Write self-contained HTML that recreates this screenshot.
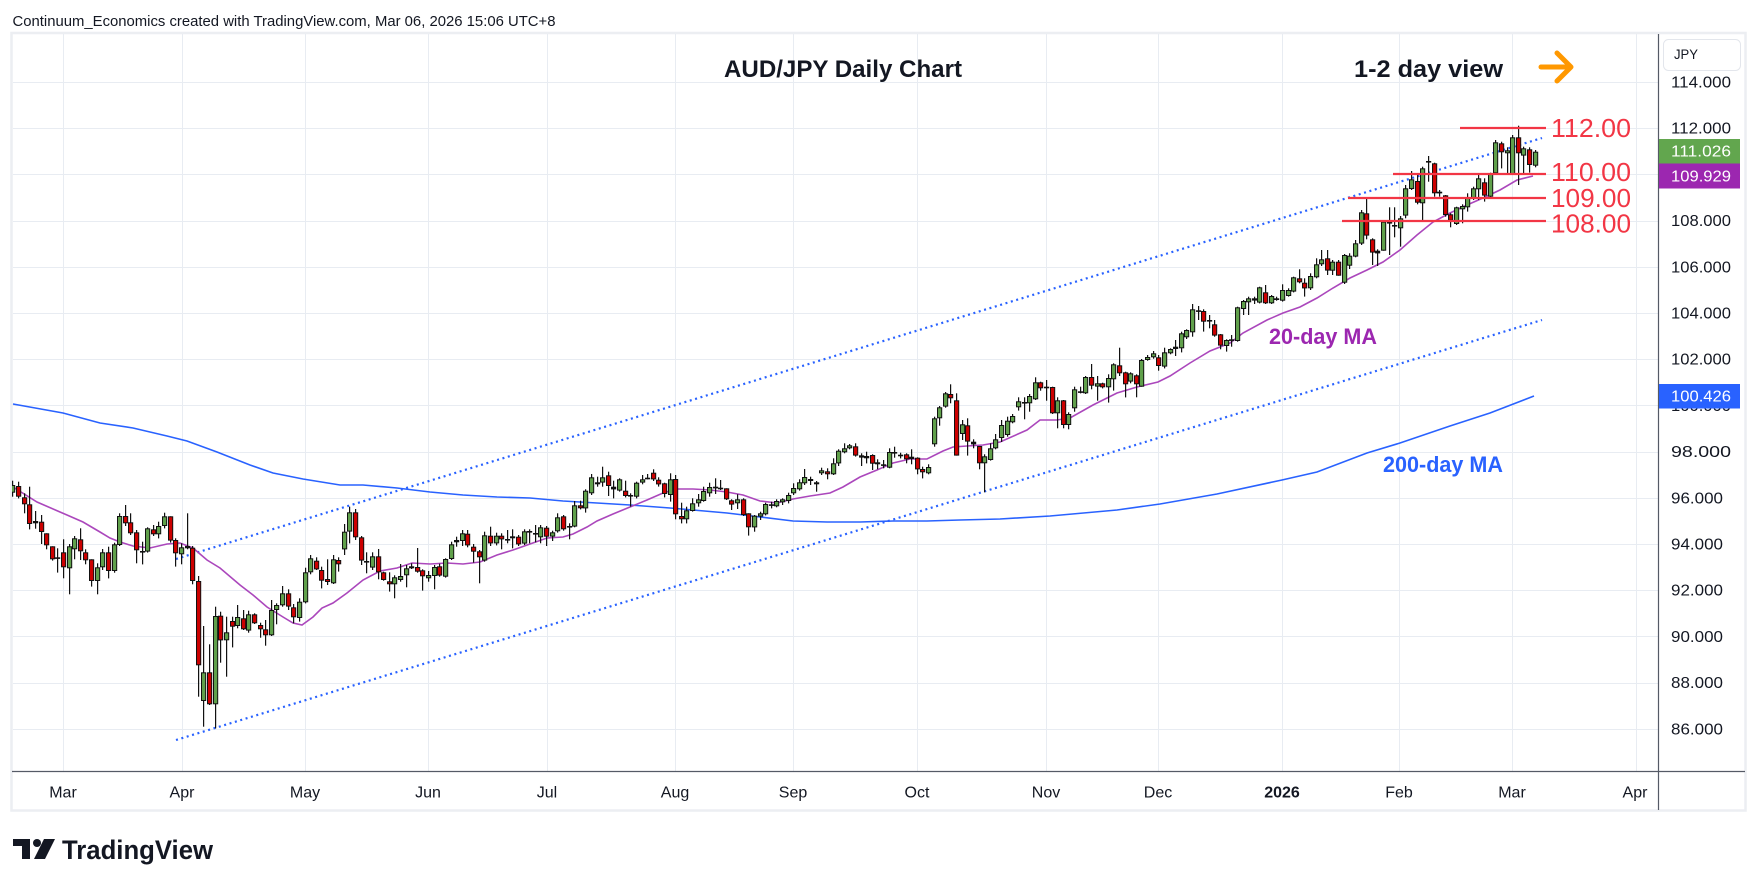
<!DOCTYPE html>
<html><head><meta charset="utf-8">
<style>
html,body{margin:0;padding:0;background:#fff;}
body{width:1758px;height:886px;overflow:hidden;}
svg{display:block;font-family:"Liberation Sans",sans-serif;}
</style></head><body>
<svg id="c" width="1758" height="886" viewBox="0 0 1758 886" xmlns="http://www.w3.org/2000/svg">
<defs><clipPath id="clip"><rect x="12" y="34" width="1646" height="737"/></clipPath></defs>
<rect x="0" y="0" width="1758" height="886" fill="#fff"/>
<text x="12.5" y="26" font-size="15" fill="#131722" textLength="543" lengthAdjust="spacingAndGlyphs">Continuum_Economics created with TradingView.com, Mar 06, 2026 15:06 UTC+8</text>
<rect x="11.5" y="33" width="1734" height="777.5" fill="none" stroke="#eceef2" stroke-width="2.5"/>
<g id="grid"></g>
<g clip-path="url(#clip)">
<polyline id="ma200" fill="none" stroke="#2962ff" stroke-width="1.6" points="13,404 63,413 100,423 133,428 167,436 187,441 217,452 250,465 273,473 303,479 340,485 363,485 397,488 430,492 463,495 497,497 530,498 563,501 597,503 630,505 670,508 693,510 727,513 760,517 793,521 827,522 860,522 893,521 927,521 960,520 1000,519 1050,516 1117,510 1160,504 1217,494 1282,480 1317,472 1367,453 1400,443 1450,426 1490,413 1534,396"/>
<line x1="176" y1="559" x2="1542" y2="138" stroke="#2962ff" stroke-width="2.2" stroke-dasharray="2 3.6"/>
<line x1="176" y1="740" x2="1542" y2="320" stroke="#2962ff" stroke-width="2.2" stroke-dasharray="2 3.6"/>
<polyline id="ma20" fill="none" stroke="#ab47bc" stroke-width="1.6" points="13,487 37,502 60,512 67,515 83,522 100,532 110,538 120,542 133,546 150,548 167,544 180,543 193,548 207,560 220,568 240,585 253,595 267,607 283,617 293,623 302,625 313,617 322,608 333,603 347,593 363,580 380,571 397,568 412,563 430,564 447,563 463,564 480,562 497,555 513,550 530,544 547,538 563,537 573,534 587,527 597,521 613,514 630,507 647,500 663,493 677,489 693,489 710,490 727,492 743,495 760,501 777,503 793,499 810,496 830,493 843,487 860,477 877,470 893,463 910,459 927,459 943,451 953,447 967,446 983,445 1000,442 1027,430 1040,420 1057,420 1070,418 1093,405 1117,393 1137,387 1158,382 1170,376 1190,363 1210,351 1230,343 1243,333 1267,320 1283,313 1300,307 1317,298 1333,288 1350,278 1367,270 1383,262 1400,250 1417,235 1433,222 1450,213 1467,205 1483,198 1500,190 1517,180 1533,176"/>
<g id="candles"></g>
<line x1="1460" y1="128" x2="1546" y2="128" stroke="#f23645" stroke-width="2.2"/>
<line x1="1393" y1="174" x2="1546" y2="174" stroke="#f23645" stroke-width="2.2"/>
<line x1="1348" y1="198" x2="1546" y2="198" stroke="#f23645" stroke-width="2.2"/>
<line x1="1342" y1="221" x2="1546" y2="221" stroke="#f23645" stroke-width="2.2"/>
</g>
<text x="724" y="77" font-size="24" font-weight="bold" fill="#131722" textLength="238" lengthAdjust="spacingAndGlyphs">AUD/JPY Daily Chart</text>
<text x="1354" y="77" font-size="24" font-weight="bold" fill="#131722" textLength="149" lengthAdjust="spacingAndGlyphs">1-2 day view</text>
<g stroke="#ff9800" stroke-width="5" stroke-linecap="round" stroke-linejoin="round" fill="none">
<line x1="1541" y1="67" x2="1570" y2="67"/>
<polyline points="1557,53 1571,67 1557,81"/>
</g>
<g font-size="25.5" fill="#f23645">
<text x="1551" y="137" textLength="80" lengthAdjust="spacingAndGlyphs">112.00</text>
<text x="1551" y="181" textLength="80" lengthAdjust="spacingAndGlyphs">110.00</text>
<text x="1551" y="207" textLength="80" lengthAdjust="spacingAndGlyphs">109.00</text>
<text x="1551" y="232.5" textLength="80" lengthAdjust="spacingAndGlyphs">108.00</text>
</g>
<text x="1269" y="344" font-size="22" font-weight="bold" fill="#9c27b0" textLength="108" lengthAdjust="spacingAndGlyphs">20-day MA</text>
<text x="1383" y="472" font-size="22" font-weight="bold" fill="#2962ff" textLength="120" lengthAdjust="spacingAndGlyphs">200-day MA</text>
<line x1="12" y1="771.5" x2="1745" y2="771.5" stroke="#555a66" stroke-width="1.2"/>
<line x1="1658.5" y1="34" x2="1658.5" y2="810" stroke="#555a66" stroke-width="1.2"/>
<g font-size="15.5" fill="#131722">
<text x="1671" y="87.5" textLength="60" lengthAdjust="spacingAndGlyphs">114.000</text>
<text x="1671" y="133.7" textLength="60" lengthAdjust="spacingAndGlyphs">112.000</text>
<text x="1671" y="226.1" textLength="60" lengthAdjust="spacingAndGlyphs">108.000</text>
<text x="1671" y="272.3" textLength="60" lengthAdjust="spacingAndGlyphs">106.000</text>
<text x="1671" y="318.5" textLength="60" lengthAdjust="spacingAndGlyphs">104.000</text>
<text x="1671" y="364.7" textLength="60" lengthAdjust="spacingAndGlyphs">102.000</text>
<text x="1671" y="410.9" textLength="60" lengthAdjust="spacingAndGlyphs">100.000</text>
<text x="1671" y="457.1" textLength="60" lengthAdjust="spacingAndGlyphs">98.000</text>
<text x="1671" y="503.3" textLength="52" lengthAdjust="spacingAndGlyphs">96.000</text>
<text x="1671" y="549.5" textLength="52" lengthAdjust="spacingAndGlyphs">94.000</text>
<text x="1671" y="595.7" textLength="52" lengthAdjust="spacingAndGlyphs">92.000</text>
<text x="1671" y="641.9" textLength="52" lengthAdjust="spacingAndGlyphs">90.000</text>
<text x="1671" y="688.1" textLength="52" lengthAdjust="spacingAndGlyphs">88.000</text>
<text x="1671" y="734.3" textLength="52" lengthAdjust="spacingAndGlyphs">86.000</text>
</g>
<rect x="1659" y="139" width="81" height="24.5" fill="#62a64e"/>
<rect x="1659" y="163.5" width="81" height="25" fill="#9c27b0"/>
<rect x="1659" y="384" width="81" height="24.5" fill="#2962ff"/>
<g font-size="15.5" fill="#fff">
<text x="1671" y="156.7" textLength="60" lengthAdjust="spacingAndGlyphs">111.026</text>
<text x="1671" y="181.5" textLength="60" lengthAdjust="spacingAndGlyphs">109.929</text>
<text x="1671" y="401.7" textLength="60" lengthAdjust="spacingAndGlyphs">100.426</text>
</g>
<rect x="1663.5" y="39.5" width="77" height="31" rx="5" fill="#fff" stroke="#e3e6ec" stroke-width="1"/>
<text x="1674" y="59" font-size="14" fill="#131722" textLength="24" lengthAdjust="spacingAndGlyphs">JPY</text>
<g font-size="16" fill="#131722" text-anchor="middle">
<text x="63" y="797.5">Mar</text>
<text x="182" y="797.5">Apr</text>
<text x="305" y="797.5">May</text>
<text x="428" y="797.5">Jun</text>
<text x="547" y="797.5">Jul</text>
<text x="675" y="797.5">Aug</text>
<text x="793" y="797.5">Sep</text>
<text x="917" y="797.5">Oct</text>
<text x="1046" y="797.5">Nov</text>
<text x="1158" y="797.5">Dec</text>
<text x="1282" y="797.5" font-weight="bold">2026</text>
<text x="1399" y="797.5">Feb</text>
<text x="1512" y="797.5">Mar</text>
<text x="1635" y="797.5">Apr</text>
</g>
<g fill="#131722">
<rect x="13" y="839" width="17" height="7"/>
<rect x="22" y="839" width="8" height="20"/>
<circle cx="37" cy="843" r="4"/>
<polygon points="44,839 55,839 45,859 34,859"/>
</g>
<text x="62" y="859" font-size="27" font-weight="bold" fill="#131722" textLength="151" lengthAdjust="spacingAndGlyphs">TradingView</text>
</svg>
<script>
(function(){
var NS='http://www.w3.org/2000/svg';
function el(tag,a,p){var e=document.createElementNS(NS,tag);for(var k in a)e.setAttribute(k,a[k]);p.appendChild(e);return e;}
var grid=document.getElementById('grid');
for(var p=86;p<=114;p+=2){var y=Math.round(82+(114-p)*23.1)+0.5;el('line',{x1:13,x2:1658,y1:y,y2:y,stroke:'#e8ecf2','stroke-width':1},grid);}
[63,182,305,428,547,675,793,917,1046,1158,1282,1399,1512,1636].forEach(function(x){el('line',{x1:x+0.5,x2:x+0.5,y1:34,y2:771,stroke:'#e8ecf2','stroke-width':1},grid);});
var segs=[
{s:-9,o:470,d:"g45,68,32,80 r48,80,35,85 r82,103,70,130 r103,162,50,178 g153,160,123,176 r155,186,135,222 r190,226,190,238 r229,268,229,272 d262,265,235,308 r247,292,208,325 g229,295,222,373 g205,238,198,268 r208,244,175,270 r247,271,238,283 r268,333,268,350 g292,333,280,373 g247,292,237,300 r247,303,230,325 g223,303,218,308 g138,225,130,228 r138,160,105,168 r157,190,130,195 r187,241,180,280 d243,246,215,283 g175,245,172,248 r178,193,165,198 g168,193,155,205 g139,168,128,175 r139,212,139,218 r210,250,205,290 g232,253,220,283 g228,235,130,238 r233,333,228,343 r333,586,318,680 g607,693,468,770 r607,703,523,705 g438,703,410,775 r437,511,425,578 g487,511,440,620 r453,470,440,532 g441,468,405,475 r445,478,420,480 g433,482,422,488 r433,460,430,462 r465,478,458,503 r478,496,450,527 g420,496,390,498 g405,420,400,463 g370,406,348,410 r370,410,358,420 r412,442,402,460 g395,444,385,455 g307,397,293,400 g265,307,255,313 r272,298,262,300 r300,332,290,355 r327,336,268,345 g268,340,255,342 r270,283,262,305"},
{s:50,o:440,d:"g275,328,252,345 g217,275,200,310 r217,292,207,300 r292,362,288,375 d363,365,337,400 g349,383,337,390 r349,397,327,418 r397,420,395,422 r424,433,397,455 g412,433,406,475 g408,420,372,425 g385,406,375,442 g379,385,370,387 r381,395,324,398 r391,409,388,452 g405,415,393,425 g381,408,375,448 r379,407,371,410 g357,410,355,413 g313,357,305,360 g300,307,290,320 g280,303,270,318 r281,316,270,322 r320,335,312,368 r334,352,330,430 g286,362,275,365 r287,310,260,318 g287,310,278,316 r287,298,280,328 d297,300,270,310 g289,295,268,325 r290,313,285,318 g274,311,268,315 d273,275,268,310 d279,281,255,307 g262,292,255,310 r263,290,258,318 g277,290,272,303 g232,274,220,278 r229,268,225,272 d258,260,250,298 g196,260,183,262 r196,205,182,208 g152,205,148,218 g112,160,102,165 g127,133,110,140 g112,128,80,140 r106,138,95,168 r140,148,122,175 g118,152,115,155 r152,168,122,172 d165,167,160,200 g128,170,125,175 g118,128,105,133 d113,116,102,118 r98,118,88,123 r119,133,112,140 r130,162,128,172 g118,165,100,185"},
{s:109,o:360,d:"r357,463,345,478 r468,478,428,490 g451,478,440,490 g430,453,415,455 g418,430,402,440 g393,423,380,425 g381,400,368,410 g380,385,355,402 d383,385,360,390 r385,418,385,420 r421,434,418,450 g418,430,403,447 r418,465,415,468 r460,502,460,527 g467,502,465,515 g460,470,455,480 g432,463,428,466 d433,436,425,445 g423,439,418,442 g418,427,415,435 g405,423,398,430 g384,400,370,405 g367,388,358,392 g351,370,327,375 r357,363,350,375 r367,373,363,395 g331,340,323,345 r334,343,325,358 g310,343,295,345 g272,310,268,318 g265,277,250,280 g256,265,252,268 r259,287,250,290 r286,293,280,318 g288,295,275,310 r285,311,283,330 r307,313,298,328 d313,316,300,325 g276,323,265,325 d276,278,260,293 d284,287,278,295 r283,298,280,310 g290,297,268,313 r293,328,292,343 r327,337,320,355 g321,340,313,343 g175,253,170,260 g142,175,138,197 g100,140,96,143 r102,115,73,130 r121,287,100,287 g193,222,180,240 r196,245,175,287 r245,253,238,265 r258,310,258,328 g289,310,283,397 g265,300,250,302 g238,265,222,268 g195,234,180,246"},
{s:168,o:240,d:"g542,585,530,590 g528,547,522,550 g484,502,472,512 d486,488,472,538 g468,490,462,515 g427,478,412,480 r427,445,425,452 d440,442,420,482 r441,520,440,522 g481,520,472,565 r481,555,480,565 g522,555,517,568 g448,505,440,515 d454,457,440,460 g411,460,408,462 r411,437,372,448 g430,440,408,482 r430,442,428,445 g414,442,403,488 g373,418,370,452 r376,400,323,408 r397,433,395,472 g400,425,397,430 r406,433,403,472 g360,440,357,440 g351,360,345,362 g340,352,333,356 r352,378,345,392 g337,380,323,385 g327,340,325,343 g320,327,300,348 g280,325,275,337 g270,292,268,297 g208,277,192,290 d211,214,198,240 r213,245,208,275 d240,242,225,265 r253,287,240,290 r283,317,282,328 g300,318,298,335 d298,300,285,320 g202,303,200,305 g183,207,180,225 g175,187,170,225 r175,182,170,192 g142,188,140,190 r157,190,135,192 g168,190,165,192 r175,180,170,182 g150,182,133,185 g150,168,145,170 g112,155,110,157 r115,127,88,130"},
{s:221,o:110,d:"r518,535,505,560 g498,535,490,540 g463,502,445,505 g448,463,420,468 r445,482,420,495 g455,482,450,495 r455,497,450,497 g435,518,432,522 g437,467,430,477 g400,440,390,442 g307,401,300,405 r310,377,262,388 r388,428,385,465 g422,430,418,468 g335,422,330,422 d336,339,292,435 d345,348,292,382 g325,355,318,410 g235,317,225,325 g208,237,183,240 r213,278,195,283 g175,280,170,330 d153,155,138,215 r160,250,158,260 d245,250,240,260 r256,315,255,320 r313,332,310,352 g292,342,290,345 g288,298,283,340 g262,292,250,305 g235,265,230,270 g205,238,190,270 r217,257,205,275 g192,260,188,262 g97,190,90,192 r100,127,95,175 g121,130,112,190 g82,193,75,193 r82,130,47,225 g115,137,110,195 r118,165,112,188 g125,167,120,172"}
];
var cg=document.getElementById('candles');
var col={g:'#60a04b',r:'#cc0000'};
segs.forEach(function(sg){
  sg.d.split(' ').forEach(function(item,k){
    var c=item.charAt(0);var v=item.slice(1).split(',').map(Number);
    var i=sg.s+k;var xc=63+i*5.617;var xi=Math.round(xc);
    var bt=sg.o+v[0]/3,bb=sg.o+v[1]/3,wt=sg.o+v[2]/3,wb=sg.o+v[3]/3;
    el('rect',{x:xi,y:wt.toFixed(1),width:1.2,height:Math.max(wb-wt,1).toFixed(1),fill:'#111'},cg);
    var h=bb-bt;
    if(c==='d'||h<3){
      el('rect',{x:xi-2,y:bt.toFixed(1),width:5.2,height:Math.max(h,1.6).toFixed(1),fill:'#111'},cg);
    } else {
      el('rect',{x:xi-2,y:bt.toFixed(1),width:5.2,height:h.toFixed(1),fill:'#111'},cg);
      el('rect',{x:xi-1,y:(bt+1).toFixed(1),width:3.2,height:(h-2).toFixed(1),fill:col[c]},cg);
    }
  });
});
})();
</script>
</body></html>
